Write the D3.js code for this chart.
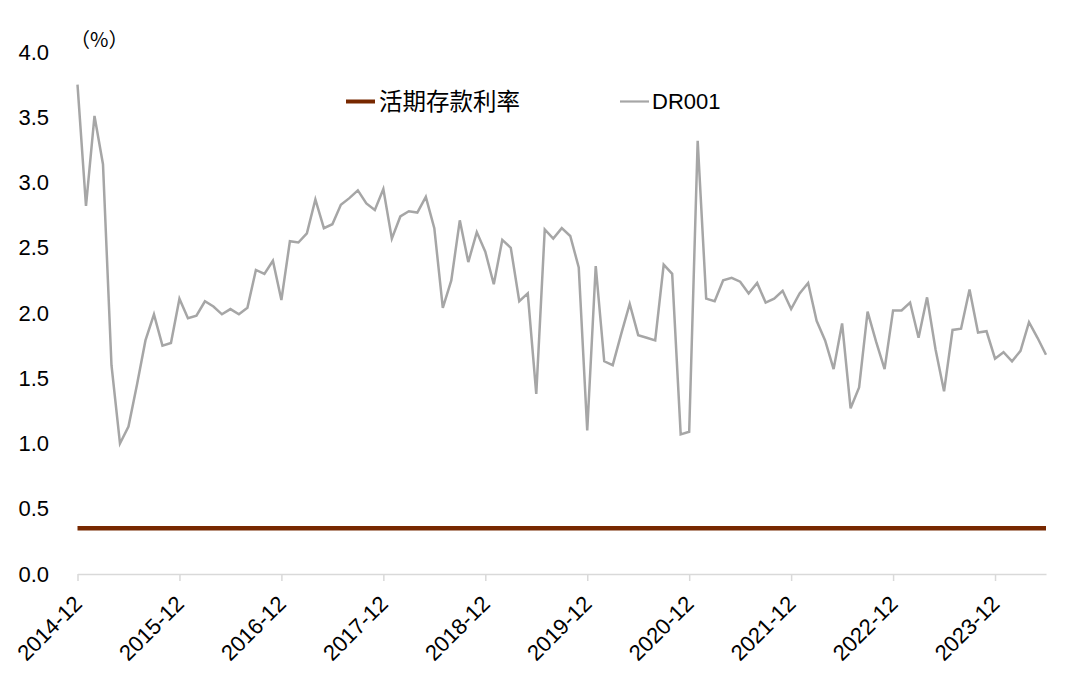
<!DOCTYPE html>
<html><head><meta charset="utf-8">
<script src="https://cdn.jsdelivr.net/npm/d3@7/dist/d3.min.js"></script>
<style>
html,body{margin:0;padding:0;background:#fff;}
svg{display:block;}
text{font-family:"Liberation Sans",Arial,"Noto Sans CJK SC",sans-serif;fill:#000;}
.cjk{font-family:"Noto Sans CJK SC",sans-serif;}
</style></head>
<body>
<svg id="chart" width="1066" height="688"></svg>
<script>
// ---- data ----
const startMonth = "2014-12";
const seriesNames = ["活期存款利率", "DR001"];
const dr001 = [
  3.75, 2.82, 3.51, 3.14, 1.60, 1.00, 1.13, 1.45, 1.79, 1.99, 1.75, 1.77,
  2.11, 1.96, 1.98, 2.09, 2.05, 1.99, 2.03, 1.99, 2.04, 2.33, 2.30, 2.40,
  2.10, 2.55, 2.54, 2.61, 2.87, 2.65, 2.68, 2.83, 2.88, 2.94, 2.84, 2.79,
  2.95, 2.57, 2.74, 2.78, 2.77, 2.89, 2.65, 2.04, 2.25, 2.71, 2.39, 2.62,
  2.47, 2.22, 2.56, 2.50, 2.09, 2.15, 1.38, 2.64, 2.57, 2.65, 2.59, 2.35,
  1.10, 2.36, 1.63, 1.60, 1.84, 2.07, 1.83, 1.81, 1.79, 2.37, 2.30, 1.07,
  1.09, 3.32, 2.11, 2.09, 2.25, 2.27, 2.24, 2.15, 2.23, 2.08, 2.11, 2.17,
  2.03, 2.15, 2.23, 1.94, 1.79, 1.57, 1.92, 1.27, 1.43, 2.01, 1.78, 1.57,
  2.02, 2.02, 2.08, 1.81, 2.12, 1.72, 1.40, 1.87, 1.88, 2.18, 1.85, 1.86,
  1.65, 1.70, 1.63, 1.71, 1.93, 1.81, 1.68
];
const depositRate = dr001.map(() => 0.35);
const yTicks = [0.0, 0.5, 1.0, 1.5, 2.0, 2.5, 3.0, 3.5, 4.0];
const xTickLabels = ["2014-12","2015-12","2016-12","2017-12","2018-12","2019-12","2020-12","2021-12","2022-12","2023-12"];
const unitLabel = "（%）";

// month labels (categories)
const months = (() => {
  const [y0, m0] = startMonth.split("-").map(Number);
  return dr001.map((_, i) => {
    const t = (m0 - 1) + i;
    const y = y0 + Math.floor(t / 12), m = (t % 12) + 1;
    return y + "-" + String(m).padStart(2, "0");
  });
})();

// ---- chart ----
const svg = d3.select("#chart");
const x = d3.scalePoint().domain(months).range([77.5, 1046]);
const y = d3.scaleLinear().domain([0, 4]).range([574, 52]);

// y labels
svg.append("g").selectAll("text").data(yTicks).join("text")
  .attr("x", 49).attr("y", d => y(d)).attr("dy", "0.35em")
  .attr("text-anchor", "end").style("font-size", "22px")
  .text(d => d.toFixed(1));

// x axis
const xAxis = d3.axisBottom(x).tickValues(xTickLabels).tickSize(7).tickSizeOuter(0).tickFormat("");
const gx = svg.append("g").attr("transform", `translate(0,${y(0)})`).call(xAxis);
gx.select(".domain").attr("stroke", "#d9d9d9").attr("stroke-width", 1.5);
gx.selectAll(".tick line").attr("stroke", "#d9d9d9").attr("stroke-width", 1.5);

svg.append("g").selectAll("text").data(xTickLabels).join("text")
  .attr("transform", d => `translate(${x(d) + 6},${y(0) + 31}) rotate(-45)`)
  .attr("text-anchor", "end").style("font-size", "22px")
  .text(d => d);

// lines
const line = d3.line().x((d, i) => x(months[i])).y(d => y(d));
svg.append("path").datum(depositRate).attr("d", line)
  .attr("fill", "none").attr("stroke", "#772800").attr("stroke-width", 4.5);
svg.append("path").datum(dr001).attr("d", line)
  .attr("fill", "none").attr("stroke", "#a6a6a6").attr("stroke-width", 2.5)
  .attr("stroke-linejoin", "miter");

// unit
svg.append("text").attr("class", "cjk").attr("x", 70).attr("y", 40).attr("dy", "0.35em")
  .style("font-size", "20px").text(unitLabel);

// legend
const legend = [
  {name: seriesNames[0], color: "#772800", w: 4, x: 346, fs: "23.5px", cls: "cjk"},
  {name: seriesNames[1], color: "#a6a6a6", w: 2.2, x: 620, fs: "22px", cls: ""}
];
const lg = svg.append("g").selectAll("g").data(legend).join("g")
  .attr("transform", d => `translate(${d.x},101.5)`);
lg.append("line").attr("x1", 0).attr("x2", 29).attr("y1", 0).attr("y2", 0)
  .attr("stroke", d => d.color).attr("stroke-width", d => d.w);
lg.append("text").attr("class", d => d.cls).attr("x", d => d.cls ? 33 : 32).attr("dy", "0.36em")
  .style("font-size", d => d.fs).text(d => d.name);
</script>
</body></html>
